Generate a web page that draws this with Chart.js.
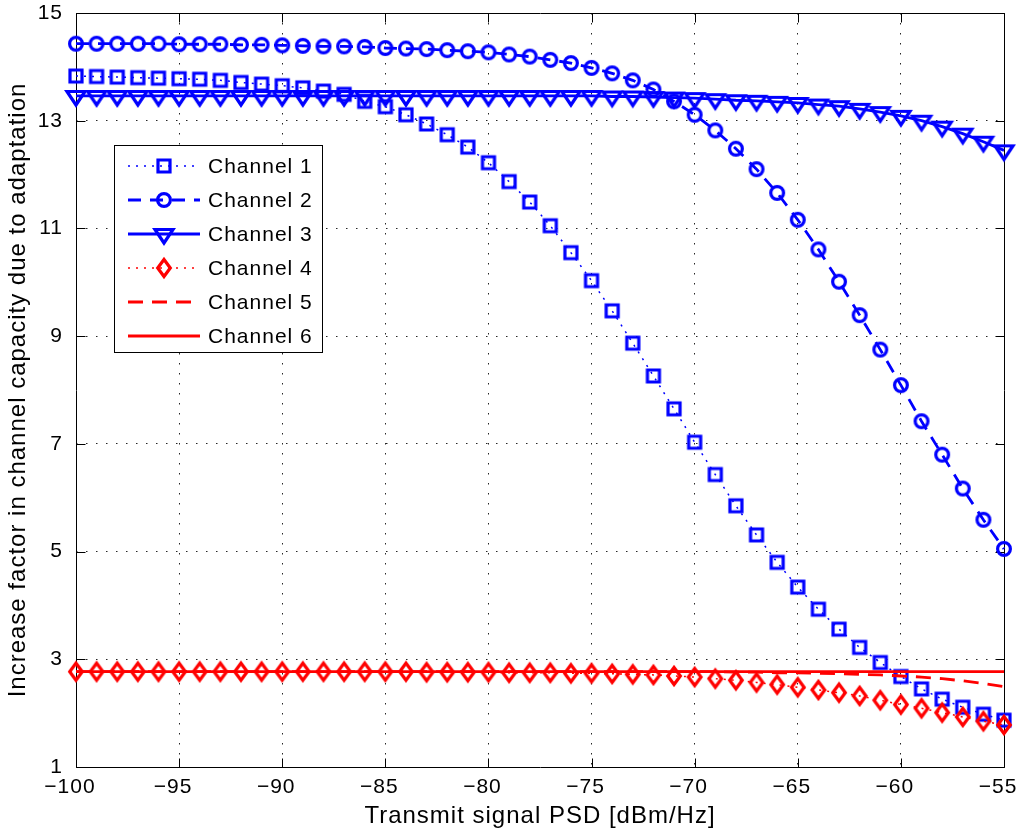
<!DOCTYPE html>
<html><head><meta charset="utf-8">
<script src="https://cdn.jsdelivr.net/npm/chart.js@4/dist/chart.umd.min.js"></script>
<style>html,body{margin:0;padding:0;background:#fff;}canvas{display:block;}</style>
</head><body>
<canvas id="c" width="1021" height="836"></canvas>
<script>
const psd = [-100,-99,-98,-97,-96,-95,-94,-93,-92,-91,-90,-89,-88,-87,-86,-85,-84,-83,-82,-81,-80,-79,-78,-77,-76,-75,-74,-73,-72,-71,-70,-69,-68,-67,-66,-65,-64,-63,-62,-61,-60,-59,-58,-57,-56,-55];
const channel1 = [13.83,13.82,13.81,13.80,13.79,13.78,13.77,13.75,13.71,13.68,13.65,13.61,13.55,13.49,13.36,13.26,13.11,12.94,12.74,12.51,12.22,11.87,11.49,11.05,10.55,10.03,9.47,8.87,8.26,7.65,7.03,6.43,5.85,5.31,4.80,4.34,3.93,3.56,3.22,2.94,2.68,2.45,2.26,2.11,1.98,1.87];
const channel2 = [14.43,14.43,14.43,14.43,14.43,14.42,14.42,14.42,14.41,14.41,14.40,14.39,14.38,14.38,14.37,14.35,14.34,14.33,14.31,14.29,14.27,14.23,14.19,14.13,14.07,13.98,13.88,13.75,13.58,13.36,13.11,12.82,12.48,12.10,11.66,11.16,10.61,10.01,9.39,8.75,8.09,7.42,6.80,6.17,5.59,5.05];
const channel3 = [13.46,13.46,13.46,13.46,13.46,13.46,13.46,13.46,13.46,13.46,13.46,13.46,13.46,13.46,13.46,13.46,13.46,13.46,13.46,13.46,13.46,13.46,13.46,13.46,13.46,13.46,13.45,13.45,13.44,13.43,13.42,13.40,13.38,13.37,13.35,13.33,13.30,13.27,13.22,13.16,13.09,13.00,12.89,12.76,12.61,12.45];
const channel4 = [2.77,2.77,2.77,2.77,2.77,2.77,2.77,2.77,2.77,2.77,2.77,2.77,2.77,2.77,2.77,2.77,2.77,2.76,2.76,2.76,2.76,2.75,2.75,2.75,2.74,2.74,2.73,2.72,2.71,2.69,2.67,2.64,2.61,2.57,2.53,2.48,2.43,2.38,2.32,2.24,2.16,2.09,2.01,1.93,1.85,1.78];
const channel5 = [2.77,2.77,2.77,2.77,2.77,2.77,2.77,2.77,2.77,2.77,2.77,2.77,2.77,2.77,2.77,2.77,2.77,2.77,2.77,2.77,2.77,2.77,2.77,2.77,2.77,2.77,2.77,2.77,2.77,2.77,2.77,2.77,2.76,2.76,2.75,2.75,2.74,2.73,2.72,2.71,2.69,2.67,2.64,2.60,2.55,2.49];
const channel6 = [2.77,2.77,2.77,2.77,2.77,2.77,2.77,2.77,2.77,2.77,2.77,2.77,2.77,2.77,2.77,2.77,2.77,2.77,2.77,2.77,2.77,2.77,2.77,2.77,2.77,2.77,2.77,2.77,2.77,2.77,2.77,2.77,2.77,2.77,2.77,2.77,2.77,2.77,2.77,2.77,2.77,2.77,2.77,2.77,2.77,2.77];
const seriesNames = ['Channel 1','Channel 2','Channel 3','Channel 4','Channel 5','Channel 6'];
const xTickValues = [-100,-95,-90,-85,-80,-75,-70,-65,-60,-55];
const yTickValues = [1,3,5,7,9,11,13,15];
const xTitle = 'Transmit signal PSD [dBm/Hz]';
const yTitle = 'Increase factor in channel capacity due to adaptation';

const BLUE = '#0000ff', RED = '#ff0000';
function marker(shape, color) {
  const c = document.createElement('canvas'); c.width = 30; c.height = 30;
  const g = c.getContext('2d'); g.strokeStyle = color; g.lineWidth = 3.2; g.lineJoin = 'miter';
  const m = 15;
  g.beginPath();
  if (shape === 'square') g.rect(m - 6, m - 6, 12, 12);
  else if (shape === 'circle') g.arc(m, m, 6.4, 0, Math.PI * 2);
  else if (shape === 'tri') { g.moveTo(m - 9, m - 4.5); g.lineTo(m + 9, m - 4.5); g.lineTo(m, m + 9); g.closePath(); }
  else if (shape === 'diamond') { g.moveTo(m, m - 8.5); g.lineTo(m + 6.3, m); g.lineTo(m, m + 8.5); g.lineTo(m - 6.3, m); g.closePath(); }
  g.stroke();
  return c;
}
const styles = [
  {color: BLUE, width: 1.5, dash: [2, 6], mk: marker('square', BLUE)},
  {color: BLUE, width: 2.8, dash: [13, 9], mk: marker('circle', BLUE)},
  {color: BLUE, width: 2.8, dash: [], mk: marker('tri', BLUE)},
  {color: RED, width: 1.5, dash: [2, 6], mk: marker('diamond', RED)},
  {color: RED, width: 2.8, dash: [15, 9], mk: null},
  {color: RED, width: 2.8, dash: [], mk: null}
];
const allSeries = [channel1, channel2, channel3, channel4, channel5, channel6];
const datasets = allSeries.map((vals, i) => ({
  label: seriesNames[i],
  data: psd.map((x, j) => ({x: x, y: vals[j]})),
  borderColor: styles[i].color,
  borderWidth: styles[i].width,
  borderDash: styles[i].dash,
  backgroundColor: 'transparent',
  pointStyle: styles[i].mk || 'circle',
  pointRadius: styles[i].mk ? 6 : 0,
  pointHoverRadius: styles[i].mk ? 6 : 0,
  fill: false,
  tension: 0,
  clip: false,
  order: 6 - i
}));

const FONT = "'Liberation Sans', Arial, sans-serif";
Chart.defaults.font.family = FONT;
Chart.defaults.color = '#000';

const spacing = {
  id: 'spacing',
  beforeLayout(c) { c.ctx.letterSpacing = '1px'; },
  beforeDraw(c) { c.ctx.letterSpacing = '1px'; }
};
const boxPlugin = {
  id: 'box',
  beforeDatasetsDraw(chart) {
    const ctx = chart.ctx, a = chart.chartArea, xs = chart.scales.x, ys = chart.scales.y;
    const L = Math.round(a.left) + 0.5, R = Math.round(a.right) + 0.5, T = Math.round(a.top) + 0.5, B = Math.round(a.bottom) + 0.5;
    ctx.save(); ctx.setLineDash([]); ctx.strokeStyle = '#000'; ctx.lineWidth = 1;
    ctx.beginPath(); ctx.rect(L, T, R - L, B - T);
    const tl = 9;
    xTickValues.forEach(v => { const p = Math.round(xs.getPixelForValue(v)) + 0.5; ctx.moveTo(p, B); ctx.lineTo(p, B - tl); ctx.moveTo(p, T); ctx.lineTo(p, T + tl); });
    yTickValues.forEach(v => { const p = Math.round(ys.getPixelForValue(v)) + 0.5; ctx.moveTo(L, p); ctx.lineTo(L + tl, p); ctx.moveTo(R, p); ctx.lineTo(R - tl, p); });
    ctx.stroke(); ctx.restore();
  }
};
const legendPlugin = {
  id: 'mlegend',
  afterDraw(chart) {
    const ctx = chart.ctx;
    const bx = 114.5, by = 145.5, bw = 208, bh = 207;
    ctx.save();
    ctx.fillStyle = '#fff'; ctx.fillRect(bx, by, bw, bh);
    ctx.strokeStyle = '#000'; ctx.lineWidth = 1; ctx.setLineDash([]); ctx.strokeRect(bx, by, bw, bh);
    ctx.font = '21px ' + FONT; ctx.textBaseline = 'middle'; ctx.textAlign = 'left'; ctx.fillStyle = '#000';
    ctx.letterSpacing = '1px';
    seriesNames.forEach((name, i) => {
      const y = 166 + i * 34;
      const s = styles[i];
      ctx.beginPath(); ctx.strokeStyle = s.color; ctx.lineWidth = s.width; ctx.setLineDash(s.dash);
      ctx.moveTo(128, y); ctx.lineTo(200, y); ctx.stroke();
      ctx.setLineDash([]);
      if (s.mk) ctx.drawImage(s.mk, 164 - s.mk.width / 2, y - s.mk.height / 2);
      ctx.fillText(name, 208, y + 1);
    });
    ctx.restore();
  }
};

new Chart(document.getElementById('c'), {
  type: 'line',
  data: {datasets: datasets},
  plugins: [spacing, boxPlugin, legendPlugin],
  options: {
    responsive: false, animation: false, devicePixelRatio: 1,
    events: [],
    layout: {padding: {left: 0, right: 17, top: 13, bottom: 0}},
    plugins: {legend: {display: false}, tooltip: {enabled: false}, title: {display: false}},
    scales: {
      x: {
        type: 'linear', min: -100, max: -55,
        afterBuildTicks: s => { s.ticks = xTickValues.map(v => ({value: v})); },
        afterFit: s => { s.height = 69; s.paddingLeft = 0; s.paddingRight = 0; },
        ticks: {font: {size: 21}, padding: 8, maxRotation: 0, autoSkip: false, labelOffset: -6,
          callback: v => String(v).replace('-', '\u2212')},
        grid: {color: 'rgba(0,0,0,0.85)', lineWidth: 1, drawTicks: false},
        border: {display: false, dash: [1.5, 8.5]},
        title: {display: true, text: xTitle, font: {size: 24}, padding: {top: 0, bottom: 5}}
      },
      y: {
        type: 'linear', min: 1, max: 15,
        afterBuildTicks: s => { s.ticks = yTickValues.map(v => ({value: v})); },
        afterFit: s => { s.width = 76; s.paddingTop = 0; s.paddingBottom = 0; },
        ticks: {font: {size: 21}, padding: 13, autoSkip: false},
        grid: {color: 'rgba(0,0,0,0.85)', lineWidth: 1, drawTicks: false},
        border: {display: false, dash: [1.5, 8.5]},
        title: {display: true, text: yTitle, font: {size: 24}, padding: {top: 4, bottom: 0}}
      }
    }
  }
});
</script>
</body></html>
